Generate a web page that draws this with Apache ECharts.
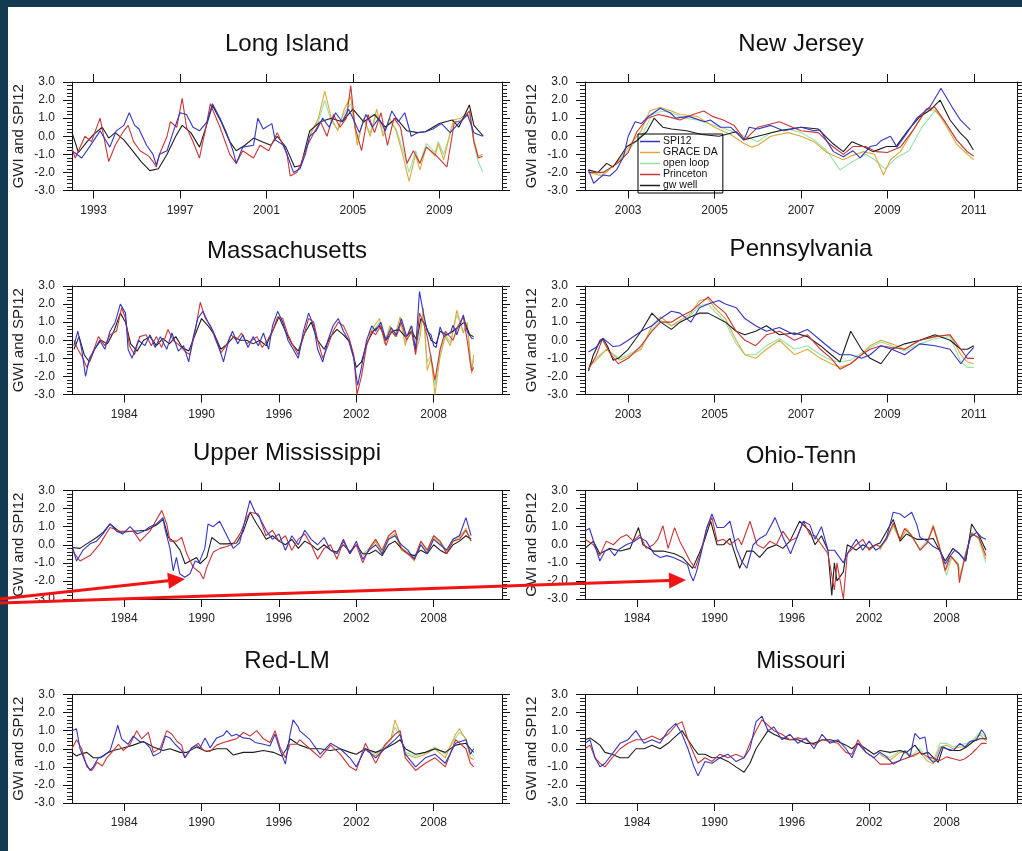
<!DOCTYPE html>
<html><head><meta charset="utf-8">
<script src="https://cdn.jsdelivr.net/npm/echarts@6/dist/echarts.min.js"></script>
<style>html,body{margin:0;padding:0;background:#123b52;}#c{position:absolute;left:0;top:0;width:1022px;height:851px;}</style>
</head><body><div id="c"></div>
<script>
// ---------------- DATA (year, value) ----------------
const seriesNames = ['SPI12','GRACE DA','open loop','Princeton','gw well'];
const liTicks = [1993,1997,2001,2005,2009];
const njTicks = [2003,2005,2007,2009,2011];
const longTicks = [1984,1990,1996,2002,2008];
const yTicks = [-3,-2,-1,0,1,2,3];

// Long Island
const liSPI = [[1992.0,-0.8],[1992.45,-1.2],[1992.8,-0.6],[1993.3,0.3],[1993.6,-0.3],[1993.75,-0.6],[1994.05,0.3],[1994.4,0.6],[1994.65,1.3],[1994.9,0.6],[1995.1,0.4],[1995.45,-0.5],[1995.75,-1.0],[1995.9,-1.6],[1996.05,-1.0],[1996.4,-0.8],[1996.7,0.3],[1997.0,1.3],[1997.3,1.2],[1997.6,0.5],[1997.9,0.3],[1998.25,0.8],[1998.5,1.8],[1998.85,1.0],[1999.15,0.2],[1999.45,-0.8],[1999.6,-1.5],[1999.9,-0.6],[2000.4,-0.5],[2000.6,1.0],[2000.85,0.4],[2001.25,0.7],[2001.4,-0.2],[2001.8,-0.5],[2002.25,-2.0],[2002.55,-1.8],[2002.8,-1.0],[2003.0,0.0],[2003.3,0.3],[2003.6,1.0],[2003.9,0.5],[2004.2,1.3],[2004.5,0.8],[2004.8,1.5],[2005.0,1.0],[2005.3,0.2],[2005.6,1.2],[2005.9,0.5],[2006.2,1.0],[2006.5,0.3],[2006.8,1.4],[2007.1,0.8],[2007.4,1.3],[2007.7,0.0],[2008.0,0.2],[2008.35,0.25],[2008.7,0.4],[2009.1,0.7],[2009.5,0.2],[2009.96,0.8],[2010.3,1.2],[2010.6,0.2],[2011.0,0.0]];
const liPrin = [[1992.0,-0.7],[1992.15,-1.2],[1992.6,0.0],[1992.9,-0.3],[1993.3,1.0],[1993.7,-1.4],[1994.0,-0.5],[1994.4,0.3],[1994.6,0.6],[1994.85,-0.3],[1995.15,-0.8],[1995.55,-1.1],[1995.75,-1.4],[1995.9,-1.7],[1996.05,-1.0],[1996.4,0.0],[1996.55,0.8],[1996.85,0.5],[1997.1,2.1],[1997.3,0.5],[1997.6,-0.3],[1997.9,-1.2],[1998.2,0.5],[1998.4,1.8],[1998.6,1.2],[1998.85,0.5],[1999.3,-1.0],[1999.6,-1.5],[1999.9,-0.8],[2000.4,-1.2],[2000.7,-0.5],[2001.1,-0.8],[2001.5,0.2],[2001.95,-1.0],[2002.1,-2.2],[2002.4,-2.0],[2002.6,-1.5],[2002.9,-0.5],[2003.2,0.2],[2003.5,0.8],[2003.8,0.0],[2004.1,1.2],[2004.4,0.5],[2004.7,1.0],[2004.9,2.8],[2005.1,0.5],[2005.4,-0.8],[2005.7,1.2],[2006.0,0.2],[2006.3,1.3],[2006.6,-0.5],[2006.9,1.0],[2007.2,0.5],[2007.5,-1.5],[2007.8,-0.8],[2008.1,-1.5],[2008.4,-0.6],[2008.8,-1.0],[2009.35,-1.7],[2009.7,0.8],[2010.0,0.8],[2010.4,1.4],[2010.6,-0.3],[2010.8,-1.2],[2011.0,-1.1]];
const liGW = [[1992.0,0.2],[1992.3,-0.9],[1992.7,-0.3],[1993.0,0.1],[1993.4,0.5],[1993.7,-0.1],[1994.0,0.2],[1994.4,-0.2],[1994.8,-0.8],[1995.2,-1.4],[1995.6,-1.9],[1996.0,-1.8],[1996.4,-1.0],[1996.8,0.0],[1997.1,0.6],[1997.5,0.2],[1997.9,-0.6],[1998.2,0.5],[1998.5,1.7],[1998.9,0.8],[1999.3,-0.3],[1999.6,-0.8],[2000.0,-0.5],[2000.4,-0.1],[2000.8,-0.3],[2001.2,-0.5],[2001.5,0.0],[2001.9,-0.6],[2002.3,-1.7],[2002.6,-1.6],[2003.0,0.3],[2003.5,0.8],[2004.0,1.0],[2004.5,0.8],[2005.0,1.5],[2005.5,0.8],[2006.0,1.2],[2006.5,0.5],[2007.0,1.0],[2007.5,0.3],[2008.0,0.2],[2008.35,0.25],[2009.0,0.7],[2009.6,0.9],[2009.9,0.5],[2010.39,1.73],[2010.6,0.6],[2011.04,0.0]];
const liGrace = [[2003.0,0.0],[2003.4,1.0],[2003.7,2.5],[2004.0,1.0],[2004.3,0.3],[2004.6,1.5],[2004.9,2.2],[2005.2,-0.5],[2005.5,1.0],[2005.8,0.0],[2006.1,1.5],[2006.4,0.0],[2006.7,1.0],[2007.0,0.3],[2007.3,-1.0],[2007.6,-2.5],[2007.9,-1.0],[2008.1,-1.86],[2008.4,-0.57],[2008.8,-1.1],[2008.95,-0.4],[2009.2,-1.3],[2009.65,0.9],[2010.0,1.0],[2010.4,1.4],[2010.6,-0.2],[2010.8,-1.1],[2011.0,-1.0]];
const liOL = [[2003.0,0.2],[2003.4,0.8],[2003.7,2.0],[2004.0,0.8],[2004.3,0.4],[2004.6,1.3],[2004.9,1.8],[2005.2,-0.2],[2005.5,0.9],[2005.8,0.2],[2006.1,1.2],[2006.4,0.2],[2006.7,0.8],[2007.0,0.4],[2007.3,-0.7],[2007.6,-2.0],[2007.9,-0.8],[2008.1,-1.5],[2008.4,-0.4],[2008.8,-0.9],[2008.95,-0.3],[2009.2,-1.0],[2009.65,0.7],[2010.0,0.9],[2010.4,1.2],[2010.6,-0.4],[2010.8,-1.4],[2011.0,-1.95]];

// New Jersey
const njSPI = [[2002.08,-1.86],[2002.2,-2.6],[2002.42,-2.14],[2002.57,-2.2],[2002.73,-1.86],[2002.89,-1.13],[2003.0,0.0],[2003.16,0.8],[2003.3,0.7],[2003.46,1.08],[2003.74,1.55],[2003.97,1.3],[2004.1,1.0],[2004.4,1.1],[2004.77,0.8],[2004.9,0.9],[2005.14,0.5],[2005.37,0.5],[2005.68,-0.2],[2005.8,0.5],[2006.0,0.4],[2006.3,0.6],[2006.6,0.3],[2007.0,0.5],[2007.3,0.3],[2007.44,0.35],[2007.75,-0.85],[2007.98,-1.13],[2008.2,-0.8],[2008.37,-1.2],[2008.6,-0.57],[2008.74,-0.5],[2008.86,-0.23],[2009.07,0.0],[2009.22,-0.6],[2009.45,0.17],[2009.68,1.0],[2009.99,1.64],[2010.24,2.65],[2010.49,1.64],[2010.69,0.9],[2010.92,0.35]];
const njGW = [[2002.08,-1.86],[2002.3,-2.0],[2002.5,-1.5],[2002.65,-1.7],[2002.97,-0.57],[2003.2,-0.25],[2003.43,0.25],[2003.6,1.0],[2003.8,0.5],[2004.0,0.4],[2004.35,0.3],[2004.7,0.1],[2005.1,0.0],[2005.5,0.25],[2005.67,-0.2],[2006.0,0.0],[2006.5,0.3],[2007.0,0.5],[2007.4,0.4],[2007.75,-0.43],[2007.98,-0.85],[2008.18,-0.3],[2008.44,-0.57],[2008.67,-0.85],[2008.98,-0.57],[2009.2,-0.57],[2009.45,0.25],[2009.75,1.08],[2009.99,1.45],[2010.22,2.0],[2010.45,0.9],[2010.69,0.17],[2010.85,-0.2],[2010.99,-0.76]];
const njGrace = [[2002.08,-2.0],[2002.4,-2.2],[2002.8,-1.3],[2003.1,-0.3],[2003.3,0.3],[2003.5,1.4],[2003.74,1.6],[2004.0,1.4],[2004.2,1.2],[2004.6,1.1],[2005.0,0.5],[2005.37,0.1],[2005.68,-0.4],[2005.85,-0.6],[2006.0,-0.5],[2006.3,0.0],[2006.7,0.2],[2007.0,0.0],[2007.3,-0.3],[2007.6,-0.9],[2007.98,-1.3],[2008.15,-1.1],[2008.45,-0.85],[2008.7,-1.0],[2008.91,-2.14],[2009.07,-1.3],[2009.3,-0.85],[2009.6,0.35],[2009.9,1.45],[2010.1,1.45],[2010.2,1.18],[2010.38,0.5],[2010.6,-0.43],[2010.85,-1.0],[2011.0,-1.3]];
const njOL = [[2002.08,-2.0],[2002.4,-2.1],[2002.8,-1.4],[2003.1,-0.5],[2003.35,0.2],[2003.55,1.2],[2003.8,1.4],[2004.0,1.3],[2004.3,1.0],[2004.6,0.9],[2005.0,0.6],[2005.37,0.3],[2005.7,0.0],[2006.0,-0.3],[2006.3,0.2],[2006.7,0.4],[2007.0,0.2],[2007.3,-0.2],[2007.6,-0.8],[2007.9,-1.86],[2008.2,-1.4],[2008.5,-1.0],[2008.7,-1.3],[2008.95,-1.8],[2009.2,-1.2],[2009.5,-0.8],[2009.8,0.5],[2010.1,1.4],[2010.3,0.9],[2010.6,-0.2],[2010.85,-0.9],[2011.0,-1.1]];
const njPrin = [[2002.08,-2.0],[2002.42,-2.0],[2002.75,-1.5],[2003.0,-0.9],[2003.2,0.25],[2003.45,1.0],[2003.7,1.2],[2003.9,1.1],[2004.2,0.9],[2004.5,1.2],[2004.75,1.4],[2004.95,1.1],[2005.2,0.9],[2005.45,0.6],[2005.7,-0.2],[2006.0,0.5],[2006.5,0.8],[2007.0,0.3],[2007.4,0.2],[2007.7,-0.5],[2007.98,-1.0],[2008.2,-0.57],[2008.5,-0.57],[2008.74,-0.85],[2009.0,-0.9],[2009.3,-0.6],[2009.6,0.35],[2009.9,1.5],[2010.1,1.6],[2010.35,0.75],[2010.6,-0.2],[2010.85,-0.85],[2011.0,-1.1]];

// Massachusetts
const maSPI = [[1980.1,-0.3],[1980.4,0.5],[1980.7,-0.5],[1981.0,-2.0],[1981.3,-1.0],[1981.7,-0.5],[1982.1,0.0],[1982.5,-0.5],[1982.9,0.5],[1983.3,1.0],[1983.7,2.0],[1984.1,1.5],[1984.3,-0.5],[1984.6,-1.0],[1985.1,0.0],[1985.6,-0.3],[1986.0,0.3],[1986.4,-0.4],[1986.8,0.2],[1987.3,-0.5],[1987.7,0.4],[1988.2,-0.6],[1988.6,-0.3],[1989.0,-1.2],[1989.3,0.0],[1989.7,1.2],[1990.1,1.6],[1990.5,1.0],[1990.9,0.5],[1991.3,-0.3],[1991.7,-1.2],[1992.1,0.0],[1992.4,0.5],[1992.8,-0.2],[1993.2,0.3],[1993.6,-0.4],[1994.0,0.2],[1994.4,-0.3],[1994.8,0.4],[1995.2,-0.5],[1995.5,0.8],[1995.9,1.6],[1996.3,1.0],[1996.7,0.0],[1997.1,-0.5],[1997.5,-1.0],[1997.9,0.5],[1998.3,1.5],[1998.7,0.8],[1999.0,-0.5],[1999.4,-1.2],[1999.8,0.0],[2000.2,0.8],[2000.6,1.2],[2001.0,0.5],[2001.4,0.0],[2001.8,-1.0],[2002.1,-2.5],[2002.4,-1.5],[2002.8,0.0],[2003.2,0.8],[2003.5,0.5],[2003.9,1.0],[2004.3,0.0],[2004.7,0.7],[2005.1,0.3],[2005.5,1.2],[2005.9,0.2],[2006.3,0.8],[2006.6,-0.5],[2006.9,2.7],[2007.2,1.5],[2007.5,0.5],[2007.8,0.3],[2008.0,-0.3],[2008.2,-0.4],[2008.5,0.74],[2008.8,0.2],[2009.3,0.4],[2009.5,0.83],[2009.8,0.3],[2010.3,1.4],[2010.6,0.5],[2010.95,0.1],[2011.1,0.1]];
const maPrin = [[1980.1,0.0],[1980.4,-0.5],[1980.8,-1.0],[1981.1,-1.5],[1981.5,-0.8],[1982.0,0.2],[1982.5,-0.3],[1982.9,0.3],[1983.4,0.5],[1983.8,1.8],[1984.1,1.2],[1984.4,-0.3],[1984.8,-0.8],[1985.2,0.2],[1985.7,0.3],[1986.1,-0.3],[1986.5,0.2],[1986.9,-0.4],[1987.4,0.6],[1987.8,0.0],[1988.3,-0.3],[1988.7,-0.6],[1989.1,-0.8],[1989.5,0.5],[1989.9,2.1],[1990.3,1.2],[1990.7,0.8],[1991.1,0.0],[1991.5,-0.7],[1991.9,-0.3],[1992.3,0.3],[1992.7,0.0],[1993.1,0.4],[1993.5,-0.2],[1993.9,0.0],[1994.3,0.2],[1994.7,-0.4],[1995.1,0.0],[1995.5,0.5],[1995.9,1.3],[1996.3,1.2],[1996.7,0.3],[1997.1,-0.3],[1997.5,-0.8],[1997.9,0.2],[1998.3,1.2],[1998.7,1.0],[1999.0,0.0],[1999.4,-1.0],[1999.8,-0.3],[2000.2,0.5],[2000.6,1.0],[2001.0,0.8],[2001.4,0.2],[2001.8,-0.8],[2002.05,-3.0],[2002.4,-2.0],[2002.8,-0.3],[2003.2,0.5],[2003.5,0.3],[2003.9,0.8],[2004.3,-0.3],[2004.7,0.5],[2005.1,0.2],[2005.5,1.0],[2005.9,0.0],[2006.3,0.5],[2006.6,-0.8],[2006.9,1.5],[2007.2,1.0],[2007.5,0.2],[2007.8,-1.0],[2008.1,-2.2],[2008.5,-0.5],[2008.9,0.5],[2009.5,0.0],[2009.9,0.8],[2010.3,1.3],[2010.6,0.0],[2010.85,-1.3],[2010.95,-1.7],[2011.1,-1.5]];
const maGW = [[1980.1,-0.5],[1980.5,0.2],[1980.9,-0.8],[1981.3,-1.2],[1981.7,-0.5],[1982.2,0.0],[1982.7,-0.2],[1983.2,0.5],[1983.7,1.5],[1984.1,1.0],[1984.5,-0.2],[1985.0,-0.6],[1985.5,0.0],[1986.0,0.2],[1986.5,-0.3],[1987.0,0.1],[1987.5,-0.2],[1988.0,0.2],[1988.5,-0.4],[1989.0,-0.6],[1989.5,0.3],[1990.0,1.2],[1990.5,0.8],[1991.0,0.3],[1991.5,-0.5],[1992.0,-0.2],[1992.5,0.2],[1993.0,0.0],[1993.5,0.0],[1994.0,-0.2],[1994.5,0.0],[1995.0,-0.3],[1995.5,0.5],[1996.0,1.3],[1996.5,0.5],[1997.0,-0.2],[1997.5,-0.6],[1998.0,0.4],[1998.5,1.0],[1999.0,0.0],[1999.5,-0.5],[2000.0,0.2],[2000.5,0.6],[2001.0,0.3],[2001.5,-0.1],[2002.0,-1.5],[2002.4,-1.2],[2002.8,-0.2],[2003.3,0.5],[2003.8,0.8],[2004.3,0.0],[2004.8,0.5],[2005.3,0.6],[2005.8,0.2],[2006.3,0.5],[2006.7,0.0],[2007.0,1.2],[2007.4,0.8],[2007.8,0.0],[2008.2,-0.2],[2008.5,0.5],[2009.0,0.3],[2009.5,0.5],[2010.0,0.8],[2010.4,1.0],[2010.8,0.3],[2011.1,0.2]];
const maGrace = [[2003.0,0.3],[2003.4,0.8],[2003.8,1.2],[2004.2,-0.2],[2004.6,0.8],[2005.0,0.2],[2005.4,1.3],[2005.8,-0.3],[2006.2,0.8],[2006.6,-0.7],[2006.95,0.2],[2007.2,1.8],[2007.5,-1.67],[2007.8,-1.0],[2008.1,-3.0],[2008.5,-0.9],[2008.9,0.2],[2009.3,-0.3],[2009.8,1.67],[2010.3,0.4],[2010.6,1.0],[2010.95,-1.85],[2011.1,-0.8]];
const maOL = [[2003.0,0.2],[2003.4,0.6],[2003.8,1.0],[2004.2,0.0],[2004.6,0.6],[2005.0,0.3],[2005.4,1.0],[2005.8,-0.1],[2006.2,0.6],[2006.6,-0.5],[2006.95,0.5],[2007.2,1.5],[2007.5,-1.2],[2007.8,-0.8],[2008.1,-2.5],[2008.5,-0.6],[2008.9,0.3],[2009.3,-0.1],[2009.8,1.4],[2010.3,0.5],[2010.6,0.8],[2010.95,-1.6],[2011.1,-1.0]];

// Pennsylvania
const paSPI = [[2002.08,-0.65],[2002.25,-0.4],[2002.42,0.1],[2002.65,-0.35],[2002.8,-0.3],[2003.0,0.0],[2003.3,0.5],[2003.55,0.8],[2003.75,1.2],[2004.0,1.6],[2004.2,1.5],[2004.45,1.0],[2004.65,1.8],[2004.85,2.0],[2005.1,2.2],[2005.25,2.0],[2005.5,1.8],[2005.7,1.2],[2005.95,0.8],[2006.2,0.5],[2006.5,0.7],[2006.85,0.3],[2007.15,0.6],[2007.45,0.0],[2007.7,-0.5],[2007.9,-0.8],[2008.15,-0.8],[2008.4,-1.0],[2008.6,-0.8],[2008.85,-0.3],[2009.1,-0.5],[2009.4,-0.8],[2009.75,-0.2],[2010.1,-0.3],[2010.45,-0.5],[2010.7,-1.3],[2010.85,-0.8],[2011.0,-0.4]];
const paPrin = [[2002.08,-1.6],[2002.25,-0.9],[2002.4,0.05],[2002.6,-0.8],[2002.77,-1.3],[2003.0,-1.0],[2003.3,-0.3],[2003.55,0.5],[2003.75,1.0],[2004.0,1.0],[2004.2,1.3],[2004.45,1.6],[2004.65,2.0],[2004.85,2.4],[2005.0,2.0],[2005.25,1.5],[2005.5,0.5],[2005.7,0.0],[2005.95,-0.3],[2006.2,0.3],[2006.5,0.5],[2006.85,0.0],[2007.15,0.3],[2007.45,-0.5],[2007.7,-1.0],[2007.9,-1.6],[2008.15,-1.3],[2008.4,-0.8],[2008.6,-0.5],[2008.85,-0.3],[2009.1,-0.4],[2009.4,-0.5],[2009.75,0.0],[2010.1,0.2],[2010.45,0.3],[2010.7,-0.5],[2010.85,-1.0],[2011.0,-1.0]];
const paGW = [[2002.08,-1.7],[2002.19,-0.83],[2002.35,0.0],[2002.42,0.1],[2002.53,-0.37],[2002.65,-1.1],[2002.77,-1.0],[2003.0,-0.5],[2003.3,0.5],[2003.55,1.5],[2003.75,1.0],[2004.0,0.6],[2004.2,1.0],[2004.45,1.3],[2004.65,1.5],[2004.85,1.5],[2005.25,1.0],[2005.5,0.5],[2005.7,0.3],[2005.95,0.5],[2006.2,0.8],[2006.5,0.3],[2006.85,0.4],[2007.15,0.2],[2007.45,-0.3],[2007.7,-0.8],[2007.9,-1.2],[2008.15,0.5],[2008.4,-0.5],[2008.6,-1.0],[2008.85,-1.3],[2009.1,-0.5],[2009.4,-0.2],[2009.75,0.0],[2010.1,0.3],[2010.45,0.0],[2010.7,-0.5],[2010.85,-0.5],[2011.0,-0.3]];
const paGrace = [[2002.08,-1.5],[2002.3,-1.0],[2002.5,-0.5],[2002.8,-1.1],[2003.0,-0.9],[2003.3,-0.5],[2003.55,0.8],[2003.75,1.3],[2004.0,0.8],[2004.2,1.1],[2004.45,1.5],[2004.65,2.2],[2004.85,2.3],[2005.0,1.8],[2005.25,1.2],[2005.5,0.0],[2005.7,-0.8],[2005.95,-1.0],[2006.2,-0.5],[2006.5,0.0],[2006.85,-0.8],[2007.15,-0.5],[2007.45,-1.0],[2007.7,-1.3],[2007.9,-1.5],[2008.15,-1.3],[2008.4,-0.8],[2008.6,-0.3],[2008.85,0.0],[2009.1,-0.2],[2009.4,-0.5],[2009.75,0.0],[2010.1,0.2],[2010.45,0.3],[2010.7,-0.8],[2010.85,-1.2],[2011.0,-1.3]];
const paOL = [[2002.08,-1.4],[2002.3,-0.9],[2002.5,-0.5],[2002.8,-1.0],[2003.0,-0.8],[2003.3,-0.4],[2003.55,0.6],[2003.75,1.1],[2004.0,0.8],[2004.2,1.0],[2004.45,1.4],[2004.65,1.9],[2004.85,2.0],[2005.0,1.6],[2005.25,1.0],[2005.5,-0.2],[2005.7,-0.8],[2005.95,-0.8],[2006.2,-0.3],[2006.5,0.1],[2006.85,-0.5],[2007.15,-0.3],[2007.45,-0.8],[2007.7,-1.1],[2007.9,-1.2],[2008.15,-1.1],[2008.4,-0.7],[2008.6,-0.4],[2008.85,-0.1],[2009.1,-0.3],[2009.4,-0.6],[2009.75,-0.2],[2010.1,0.1],[2010.45,0.2],[2010.7,-1.2],[2010.85,-1.5],[2011.0,-1.5]];

// Upper Mississippi
const umSPI = [[1980.0,-0.15],[1980.3,-0.9],[1980.8,-0.3],[1981.35,0.05],[1981.85,0.2],[1982.35,0.6],[1982.9,1.15],[1983.4,0.75],[1983.9,0.6],[1984.45,1.0],[1985.0,0.6],[1985.5,0.75],[1986.0,1.0],[1986.5,1.15],[1987.0,1.5],[1987.2,0.75],[1987.55,-0.2],[1987.8,-1.45],[1988.05,-0.7],[1988.3,-1.6],[1988.7,-1.8],[1989.1,-1.6],[1989.5,-0.9],[1989.8,-1.0],[1990.25,-0.2],[1990.5,1.15],[1990.9,1.0],[1991.4,1.3],[1991.9,0.6],[1992.45,-0.2],[1992.95,0.1],[1993.35,1.3],[1993.75,2.45],[1994.15,1.8],[1994.5,1.5],[1995.0,0.8],[1995.5,0.3],[1996.0,0.6],[1996.5,-0.3],[1997.0,0.5],[1997.5,0.0],[1998.0,0.8],[1998.5,0.3],[1999.0,0.0],[1999.5,0.4],[2000.0,-0.3],[2000.5,-0.5],[2001.0,0.3],[2001.5,-0.5],[2002.0,0.2],[2002.5,-0.8],[2003.0,-0.3],[2003.5,0.0],[2004.0,-0.5],[2004.5,0.3],[2005.0,0.5],[2005.5,0.0],[2006.0,-0.3],[2006.5,-0.8],[2007.0,0.0],[2007.5,-0.5],[2008.0,0.3],[2008.5,0.0],[2009.0,-0.3],[2009.5,0.3],[2010.0,0.5],[2010.5,1.5],[2010.9,0.5]];
const umPrin = [[1979.95,-0.3],[1980.57,-0.9],[1981.35,-0.6],[1982.12,0.05],[1982.9,0.95],[1983.67,0.75],[1984.7,0.75],[1985.23,0.2],[1986.0,0.75],[1986.91,1.9],[1987.3,1.15],[1987.55,0.2],[1988.07,0.2],[1988.46,0.4],[1988.85,-0.5],[1989.36,-1.25],[1989.88,-1.55],[1990.14,-1.9],[1990.4,-1.25],[1990.91,-0.4],[1991.43,-0.2],[1991.95,-0.1],[1992.46,0.05],[1992.98,0.6],[1993.5,1.5],[1993.76,1.8],[1994.4,1.7],[1995.0,0.5],[1995.5,0.8],[1996.0,0.2],[1996.5,0.5],[1997.0,-0.3],[1997.5,0.3],[1998.0,0.6],[1998.5,0.0],[1999.0,-0.8],[1999.5,-0.2],[2000.0,0.0],[2000.5,-0.8],[2001.0,0.2],[2001.5,-0.5],[2002.0,0.0],[2002.5,-1.0],[2003.0,-0.2],[2003.5,0.3],[2004.0,-0.3],[2004.5,0.5],[2005.0,0.8],[2005.5,-0.2],[2006.0,-0.5],[2006.5,-0.8],[2007.0,0.2],[2007.5,-0.3],[2008.0,0.5],[2008.5,0.2],[2009.0,-0.5],[2009.5,0.2],[2010.0,0.3],[2010.5,0.8],[2010.9,0.2]];
const umGW = [[1979.95,-0.15],[1980.57,-0.2],[1981.09,0.05],[1981.86,0.4],[1982.38,0.7],[1982.9,1.15],[1983.67,0.7],[1984.7,0.75],[1985.74,0.8],[1986.52,1.1],[1987.03,1.4],[1987.42,0.4],[1987.81,0.2],[1988.33,-0.3],[1988.72,-1.05],[1989.1,-0.9],[1989.62,-0.7],[1989.88,-1.05],[1990.4,-0.7],[1990.79,0.4],[1991.43,0.05],[1991.95,0.05],[1992.72,0.1],[1993.24,0.75],[1993.76,1.8],[1994.28,1.15],[1994.6,0.8],[1995.0,0.3],[1995.5,0.5],[1996.0,0.2],[1996.5,0.0],[1997.0,0.3],[1997.5,-0.2],[1998.0,0.2],[1998.5,0.0],[1999.0,-0.3],[1999.5,0.0],[2000.0,-0.3],[2000.5,-0.4],[2001.0,0.0],[2001.5,-0.4],[2002.0,0.0],[2002.5,-0.5],[2003.0,-0.5],[2003.5,-0.3],[2004.0,-0.6],[2004.5,0.0],[2005.0,0.2],[2005.5,-0.2],[2006.0,-0.5],[2006.5,-0.6],[2007.0,-0.3],[2007.5,-0.5],[2008.0,0.0],[2008.5,-0.3],[2009.0,-0.5],[2009.5,0.0],[2010.0,0.2],[2010.5,0.5],[2010.9,0.3]];
const umGrace = [[2002.5,-0.6],[2003.0,-0.3],[2003.5,0.2],[2004.0,-0.5],[2004.5,0.4],[2005.0,0.6],[2005.5,-0.3],[2006.0,-0.5],[2006.5,-0.9],[2007.0,0.0],[2007.5,-0.4],[2008.0,0.4],[2008.5,0.1],[2009.0,-0.4],[2009.5,0.2],[2010.0,0.4],[2010.5,0.9],[2010.9,0.2]];
const umOL = [[2002.5,-0.5],[2003.0,-0.2],[2003.5,0.3],[2004.0,-0.4],[2004.5,0.3],[2005.0,0.5],[2005.5,-0.2],[2006.0,-0.4],[2006.5,-0.7],[2007.0,0.1],[2007.5,-0.3],[2008.0,0.5],[2008.5,0.2],[2009.0,-0.3],[2009.5,0.3],[2010.0,0.5],[2010.5,0.8],[2010.9,0.3]];

// Ohio-Tenn
const otSPI = [[1980.0,0.78],[1980.3,0.9],[1980.7,0.0],[1981.1,-0.9],[1981.5,-0.35],[1981.85,-0.25],[1982.25,-0.6],[1982.6,-0.25],[1983.15,0.0],[1983.8,0.2],[1984.2,0.4],[1984.7,0.2],[1985.3,-0.5],[1985.8,-0.7],[1986.3,-0.6],[1986.8,-0.7],[1987.4,-0.9],[1987.9,-1.1],[1988.1,-1.6],[1988.35,-2.0],[1988.6,-1.5],[1989.0,-0.35],[1989.4,0.95],[1989.8,1.7],[1990.2,0.95],[1990.7,0.95],[1991.2,1.3],[1991.7,-0.2],[1992.1,-0.9],[1992.5,-1.3],[1993.0,0.0],[1993.5,0.35],[1994.0,0.55],[1994.7,1.5],[1995.35,0.35],[1995.9,-0.5],[1996.4,0.4],[1996.9,1.3],[1997.4,1.1],[1997.8,0.3],[1998.3,1.0],[1998.8,-0.3],[1999.3,-0.3],[2000.0,-1.0],[2000.3,-0.5],[2001.0,0.3],[2001.5,-0.3],[2002.0,0.2],[2002.5,-0.3],[2002.84,-0.15],[2003.35,0.4],[2003.87,1.8],[2004.4,1.7],[2004.75,1.5],[2005.3,1.8],[2005.7,1.1],[2005.95,0.4],[2006.5,0.2],[2006.97,-0.1],[2007.5,-0.3],[2007.9,-1.07],[2008.25,-0.65],[2008.65,-0.3],[2009.0,-0.5],[2009.45,-0.9],[2009.82,0.4],[2010.35,0.7],[2010.75,0.4],[2011.06,0.3]];
const otPrin = [[1979.95,0.3],[1980.6,0.0],[1981.1,-0.6],[1981.6,0.2],[1982.15,0.0],[1982.7,0.4],[1983.2,0.55],[1983.7,0.2],[1984.2,0.55],[1984.7,-0.2],[1985.25,0.0],[1985.6,0.3],[1986.0,1.05],[1986.4,-0.2],[1986.9,0.95],[1987.3,0.2],[1987.7,-0.35],[1988.1,-0.9],[1988.5,-1.3],[1988.9,-0.5],[1989.4,0.95],[1989.8,1.5],[1990.2,0.2],[1990.7,0.3],[1991.2,0.0],[1991.85,0.35],[1992.1,0.0],[1992.75,1.3],[1993.3,0.0],[1993.8,-0.2],[1994.3,0.2],[1994.8,0.0],[1995.3,0.75],[1995.85,0.2],[1996.4,0.4],[1996.9,1.3],[1997.4,0.55],[1997.8,0.5],[1998.3,0.0],[1998.8,-0.5],[1999.3,-2.5],[1999.5,-1.0],[2000.0,-3.0],[2000.3,-0.5],[2001.0,0.0],[2001.5,0.3],[2002.0,-0.3],[2002.5,0.0],[2002.84,-0.1],[2003.35,0.3],[2003.87,1.2],[2004.4,0.3],[2004.75,0.9],[2005.3,0.5],[2005.95,-0.3],[2006.5,0.1],[2006.97,1.0],[2007.4,0.0],[2007.9,-1.4],[2008.3,-0.6],[2008.9,-1.1],[2009.0,-2.1],[2009.45,-0.6],[2009.95,0.6],[2010.5,0.4],[2011.06,-0.6]];
const otGW = [[1979.95,-0.2],[1980.6,0.2],[1981.1,-0.5],[1981.85,-0.2],[1982.7,-0.35],[1983.45,-0.2],[1984.1,0.95],[1984.45,0.0],[1985.25,-0.35],[1986.0,-0.35],[1986.9,-0.5],[1987.5,-0.7],[1988.3,-1.3],[1988.8,-0.5],[1989.2,0.2],[1989.7,1.3],[1990.2,0.0],[1990.7,0.0],[1991.2,0.35],[1991.95,-1.3],[1992.5,-0.35],[1993.0,-0.35],[1993.5,-0.7],[1994.1,-0.2],[1994.8,0.0],[1995.3,-0.2],[1995.85,0.2],[1996.6,1.3],[1997.4,0.75],[1997.8,0.0],[1998.3,0.5],[1998.8,-0.3],[1999.1,-2.8],[1999.3,-1.0],[1999.5,-2.0],[2000.0,-1.5],[2000.3,0.0],[2001.0,-0.3],[2001.5,0.0],[2002.0,-0.2],[2002.5,0.0],[2002.84,0.1],[2003.87,1.4],[2004.4,0.2],[2004.9,0.6],[2005.7,0.3],[2006.5,0.3],[2006.97,0.35],[2007.9,-0.9],[2008.5,-0.2],[2009.0,-0.5],[2009.5,-0.9],[2009.95,1.15],[2010.6,0.4],[2011.06,-0.3]];
const otGrace = [[2002.84,-0.3],[2003.35,0.4],[2003.87,1.1],[2004.4,0.2],[2004.9,0.9],[2005.4,0.4],[2005.95,-0.3],[2006.5,0.1],[2006.97,1.1],[2007.4,0.1],[2007.9,-1.5],[2008.4,-0.65],[2008.9,-1.2],[2009.0,-1.9],[2009.45,-0.65],[2009.95,0.65],[2010.5,0.4],[2011.06,-0.8]];
const otOL = [[2002.84,-0.2],[2003.35,0.3],[2003.87,1.0],[2004.4,0.3],[2004.9,0.8],[2005.4,0.3],[2005.95,-0.2],[2006.5,0.2],[2006.97,0.9],[2007.4,0.0],[2008.0,-1.7],[2008.4,-0.7],[2008.9,-1.0],[2009.1,-1.6],[2009.45,-0.5],[2009.95,0.7],[2010.5,0.3],[2011.06,-1.0]];

// Red-LM
const rlSPI = [[1979.95,1.0],[1980.3,1.1],[1980.57,0.0],[1980.96,-0.7],[1981.35,-1.2],[1981.6,-1.0],[1982.0,-0.5],[1982.4,-0.4],[1982.9,-0.1],[1983.3,0.8],[1983.5,1.3],[1983.8,0.55],[1984.3,0.25],[1984.7,0.7],[1985.2,0.4],[1985.6,0.35],[1986.0,0.05],[1986.26,-0.4],[1986.8,-0.2],[1987.2,0.7],[1987.55,0.6],[1987.95,0.25],[1988.46,-0.1],[1988.7,-0.5],[1989.24,0.05],[1989.6,0.2],[1989.88,0.05],[1990.27,0.6],[1990.66,0.05],[1991.17,0.6],[1991.7,0.75],[1991.95,1.0],[1992.34,0.7],[1992.7,0.8],[1993.24,0.6],[1993.76,0.55],[1994.15,0.35],[1994.8,0.25],[1995.3,0.15],[1995.7,0.8],[1996.1,-0.1],[1996.5,-0.85],[1996.86,0.8],[1997.1,1.6],[1997.5,1.2],[1997.6,1.0],[1998.4,0.5],[1999.2,-0.3],[2000.0,0.3],[2000.75,0.0],[2001.5,-0.5],[2002.0,-1.0],[2002.7,0.0],[2003.5,-0.5],[2004.2,0.0],[2005.0,0.5],[2005.4,0.8],[2005.8,-0.3],[2006.6,-1.0],[2007.35,-0.5],[2008.1,-0.3],[2008.9,-0.8],[2009.7,0.3],[2010.5,0.5],[2010.85,-0.3],[2011.1,0.0]];
const rlPrin = [[1979.95,0.0],[1980.3,0.5],[1980.7,0.0],[1981.1,-1.0],[1981.5,-1.2],[1981.9,-0.75],[1982.3,-0.95],[1982.65,-0.5],[1983.15,-0.1],[1983.55,0.25],[1983.93,-0.1],[1984.45,0.25],[1984.97,1.0],[1985.35,0.55],[1985.87,0.9],[1986.26,-0.2],[1986.8,0.05],[1987.3,1.0],[1987.7,0.8],[1988.1,0.4],[1988.46,0.2],[1988.7,-0.5],[1989.24,0.05],[1989.75,0.3],[1990.14,-0.1],[1990.66,-0.15],[1991.17,0.2],[1991.7,0.35],[1992.2,0.45],[1992.7,0.55],[1993.24,0.9],[1993.76,0.7],[1994.28,1.0],[1994.8,0.55],[1995.3,0.35],[1995.7,1.0],[1996.1,0.05],[1996.5,-0.5],[1996.86,0.25],[1997.37,0.25],[1997.6,0.5],[1998.4,0.0],[1999.2,-0.5],[2000.0,0.2],[2000.75,-0.3],[2001.5,-1.0],[2002.0,-1.2],[2002.7,0.3],[2003.5,-0.8],[2004.2,0.2],[2005.0,0.8],[2005.4,1.0],[2005.8,-0.5],[2006.6,-1.2],[2007.35,-0.8],[2008.1,-0.5],[2008.9,-1.0],[2009.7,0.5],[2010.5,0.0],[2010.85,-0.8],[2011.1,-1.0]];
const rlGW = [[1979.95,-0.2],[1980.3,-0.4],[1980.57,-0.3],[1981.1,-0.2],[1981.6,-0.5],[1982.15,-0.5],[1982.65,-0.25],[1983.15,-0.1],[1983.7,0.0],[1984.7,0.2],[1985.48,0.4],[1986.26,0.1],[1987.0,-0.1],[1987.55,0.0],[1988.33,-0.2],[1988.85,-0.2],[1989.6,0.1],[1990.4,-0.15],[1991.17,0.0],[1991.95,0.0],[1992.46,-0.35],[1993.24,-0.2],[1994.0,-0.2],[1994.8,-0.1],[1995.57,-0.2],[1996.22,-0.4],[1996.6,0.0],[1996.86,0.55],[1997.37,0.3],[1997.6,0.2],[1998.4,0.0],[1999.2,0.0],[2000.0,-0.1],[2000.75,0.0],[2001.5,-0.2],[2002.0,-0.3],[2002.7,0.0],[2003.5,-0.2],[2004.2,0.0],[2005.0,0.3],[2005.4,0.5],[2005.8,0.0],[2006.6,-0.3],[2007.35,-0.2],[2008.1,0.0],[2008.9,-0.2],[2009.7,0.2],[2010.5,0.3],[2010.85,0.0],[2011.1,-0.2]];
const rlGrace = [[2002.5,0.0],[2003.5,-0.4],[2004.2,0.1],[2004.7,0.6],[2005.0,1.6],[2005.4,0.8],[2005.8,-0.3],[2006.6,-0.5],[2007.35,-0.3],[2008.1,0.0],[2008.9,-0.5],[2009.7,0.8],[2010.0,1.1],[2010.5,0.5],[2010.85,-0.5],[2011.1,-0.6]];
const rlOL = [[2002.5,0.1],[2003.5,-0.3],[2004.2,0.2],[2004.7,0.5],[2005.0,1.2],[2005.4,0.7],[2005.8,-0.2],[2006.6,-0.4],[2007.35,-0.2],[2008.1,0.1],[2008.9,-0.3],[2009.7,0.6],[2010.0,0.9],[2010.5,0.6],[2010.85,-0.2],[2011.1,-0.4]];

// Missouri
const moSPI = [[1979.95,0.3],[1980.34,0.5],[1980.73,-0.5],[1981.11,-1.0],[1981.5,-0.8],[1982.05,-0.3],[1982.67,0.3],[1983.29,0.5],[1983.9,1.0],[1984.53,0.3],[1985.15,0.5],[1985.77,0.3],[1986.39,1.0],[1987.0,1.4],[1987.48,0.8],[1987.94,0.0],[1988.41,-1.0],[1988.72,-1.5],[1989.26,-0.7],[1989.8,-0.8],[1990.42,-0.5],[1991.04,-0.3],[1991.66,-0.7],[1992.29,-0.5],[1992.75,0.0],[1993.22,1.5],[1993.68,1.8],[1994.15,1.0],[1994.61,1.2],[1995.23,0.5],[1995.85,0.8],[1996.47,0.3],[1997.1,0.6],[1997.72,0.0],[1998.34,0.8],[1998.96,0.3],[1999.58,0.5],[2000.2,0.0],[2000.66,-0.5],[2001.13,0.3],[2001.75,-0.2],[2002.37,-0.5],[2002.84,-0.2],[2003.35,-0.45],[2003.87,-0.85],[2004.39,-0.65],[2004.78,-0.1],[2005.16,-0.45],[2005.55,0.85],[2005.94,0.55],[2006.33,0.65],[2006.58,-0.45],[2006.97,-0.75],[2007.23,-0.65],[2007.62,0.1],[2008.01,0.0],[2008.52,-0.1],[2009.04,0.3],[2009.43,0.1],[2009.82,0.4],[2010.33,0.5],[2010.72,1.05],[2010.98,0.8],[2011.11,0.5]];
const moPrin = [[1979.95,0.0],[1980.34,0.2],[1980.73,-0.5],[1981.11,-0.8],[1981.5,-1.0],[1982.05,-0.5],[1982.67,0.0],[1983.29,0.3],[1983.9,0.5],[1984.53,0.5],[1985.15,0.7],[1985.77,0.5],[1986.39,0.8],[1987.0,1.3],[1987.48,1.5],[1987.94,0.5],[1988.41,-0.3],[1988.72,-0.8],[1989.26,-0.5],[1989.8,-0.7],[1990.42,-0.3],[1991.04,-0.5],[1991.66,-0.3],[1992.29,-0.5],[1992.75,0.3],[1993.22,1.0],[1993.68,1.6],[1994.15,1.3],[1994.61,1.0],[1995.23,0.8],[1995.85,0.5],[1996.47,0.6],[1997.1,0.5],[1997.72,0.2],[1998.34,0.5],[1998.96,0.4],[1999.58,0.3],[2000.2,-0.2],[2000.66,-0.3],[2001.13,0.5],[2001.75,-0.2],[2002.37,-0.5],[2002.84,-0.85],[2003.61,-0.85],[2004.39,-0.65],[2005.16,-0.45],[2005.94,-0.2],[2006.58,-0.45],[2007.49,-0.65],[2008.01,-0.45],[2008.52,-0.55],[2009.04,-0.65],[2009.43,-0.55],[2009.82,-0.35],[2010.33,0.0],[2010.72,0.3],[2011.11,0.3]];
const moGW = [[1979.95,0.5],[1980.34,0.6],[1980.73,0.4],[1981.11,0.2],[1981.5,-0.2],[1982.05,-0.3],[1982.67,-0.5],[1983.29,-0.5],[1983.9,0.0],[1984.53,0.0],[1985.15,0.2],[1985.77,0.0],[1986.39,0.3],[1987.0,0.7],[1987.48,1.0],[1987.94,0.5],[1988.41,0.0],[1988.72,-0.3],[1989.26,-0.3],[1989.8,-0.5],[1990.42,-0.5],[1991.04,-0.7],[1991.66,-1.0],[1992.29,-1.3],[1992.75,-0.8],[1993.22,0.0],[1993.68,0.5],[1994.15,1.0],[1994.61,0.8],[1995.23,0.6],[1995.85,0.5],[1996.47,0.5],[1997.1,0.3],[1997.72,0.3],[1998.34,0.5],[1998.96,0.5],[1999.58,0.4],[2000.2,0.2],[2000.66,0.0],[2001.13,0.3],[2001.75,0.0],[2002.37,-0.3],[2002.84,-0.1],[2003.61,-0.2],[2004.39,-0.1],[2004.9,-0.2],[2005.55,0.2],[2006.07,-0.3],[2006.58,-0.2],[2007.36,-0.75],[2007.75,0.1],[2008.27,-0.1],[2009.04,-0.1],[2009.56,0.1],[2010.07,0.4],[2010.59,0.55],[2011.11,0.55]];
const moGrace = [[2002.84,-0.3],[2003.61,-0.65],[2004.39,-0.2],[2004.9,-0.2],[2005.42,-0.45],[2005.94,-0.2],[2006.46,-0.65],[2006.97,-0.85],[2007.49,0.1],[2008.01,0.2],[2008.52,0.0],[2009.04,0.1],[2009.56,0.1],[2010.07,0.4],[2010.59,0.8],[2011.11,0.4]];
const moOL = [[2002.84,-0.2],[2003.61,-0.5],[2004.39,-0.1],[2004.9,-0.3],[2005.42,-0.3],[2005.94,0.0],[2006.46,-0.5],[2006.97,-0.7],[2007.49,0.3],[2008.01,0.3],[2008.52,0.1],[2009.04,0.2],[2009.56,0.3],[2010.07,0.5],[2010.59,0.9],[2011.11,0.6]];

// ---------------- LAYOUT / STYLE ----------------
const colors = {'SPI12':'#3535c2','GRACE DA':'#dcaa3c','open loop':'#96e3aa','Princeton':'#c93636','gw well':'#1e1e1e'};
const drawOrder = ['open loop','GRACE DA','gw well','Princeton','SPI12'];
const colLeft = [72, 585], colWidth = [430, 432];
const rowTop = [82, 286, 490.5, 694.5], rowH = 108.5;

const panels = [
  {title:'Long Island', r:0, c:0, xmin:1992, xmax:2011.9, ticks:liTicks, ty:44, d:{'SPI12':liSPI,'GRACE DA':liGrace,'open loop':liOL,'Princeton':liPrin,'gw well':liGW}},
  {title:'New Jersey', r:0, c:1, xmin:2002, xmax:2012, ticks:njTicks, ty:44, d:{'SPI12':njSPI,'GRACE DA':njGrace,'open loop':njOL,'Princeton':njPrin,'gw well':njGW}},
  {title:'Massachusetts', r:1, c:0, xmin:1979.95, xmax:2013.3, ticks:longTicks, ty:251, d:{'SPI12':maSPI,'GRACE DA':maGrace,'open loop':maOL,'Princeton':maPrin,'gw well':maGW}},
  {title:'Pennsylvania', r:1, c:1, xmin:2002, xmax:2012, ticks:njTicks, ty:249, d:{'SPI12':paSPI,'GRACE DA':paGrace,'open loop':paOL,'Princeton':paPrin,'gw well':paGW}},
  {title:'Upper Mississippi', r:2, c:0, xmin:1979.95, xmax:2013.3, ticks:longTicks, ty:453, d:{'SPI12':umSPI,'GRACE DA':umGrace,'open loop':umOL,'Princeton':umPrin,'gw well':umGW}},
  {title:'Ohio-Tenn', r:2, c:1, xmin:1979.95, xmax:2013.47, ticks:longTicks, ty:456, d:{'SPI12':otSPI,'GRACE DA':otGrace,'open loop':otOL,'Princeton':otPrin,'gw well':otGW}},
  {title:'Red-LM', r:3, c:0, xmin:1979.95, xmax:2013.3, ticks:longTicks, ty:661, d:{'SPI12':rlSPI,'GRACE DA':rlGrace,'open loop':rlOL,'Princeton':rlPrin,'gw well':rlGW}},
  {title:'Missouri', r:3, c:1, xmin:1979.95, xmax:2013.47, ticks:longTicks, ty:661, d:{'SPI12':moSPI,'GRACE DA':moGrace,'open loop':moOL,'Princeton':moPrin,'gw well':moGW}}
];

const FONT = '"Liberation Sans", Arial, Helvetica, sans-serif';
const grid=[], xAxis=[], yAxis=[], series=[], graphic=[];
graphic.push({type:'rect', z:-100, silent:true, shape:{x:8,y:7,width:1014,height:844}, style:{fill:'#ffffff'}});

panels.forEach((p,i)=>{
  const left = colLeft[p.c], top = rowTop[p.r], w = colWidth[p.c];
  grid.push({left:left, top:top, width:w, height:rowH, show:false});
  const axLine = {show:true, onZero:false, lineStyle:{color:'#111', width:1}};
  xAxis.push({type:'value', gridIndex:i, position:'bottom', min:p.xmin, max:p.xmax,
    axisLine:axLine, splitLine:{show:false},
    axisTick:{show:true, inside:false, length:8, customValues:p.ticks, lineStyle:{color:'#111'}},
    axisLabel:{show:true, margin:14, customValues:p.ticks, formatter:v=>String(Math.round(v)), fontSize:12, color:'#222', fontFamily:FONT}});
  xAxis.push({type:'value', gridIndex:i, position:'top', min:p.xmin, max:p.xmax,
    axisLine:axLine, splitLine:{show:false},
    axisTick:{show:true, inside:false, length:8, customValues:p.ticks, lineStyle:{color:'#111'}},
    axisLabel:{show:false}});
  yAxis.push({type:'value', gridIndex:i, position:'left', min:-3, max:3, interval:1,
    axisLine:axLine, splitLine:{show:false},
    axisTick:{show:true, inside:false, length:9, lineStyle:{color:'#111'}},
    minorTick:{show:true, splitNumber:5, length:5, lineStyle:{color:'#222'}},
    axisLabel:{margin:17, formatter:v=>v.toFixed(1), fontSize:12, color:'#222', fontFamily:FONT},
    name:'GWI and SPI12', nameLocation:'middle', nameGap:46, nameRotate:90,
    nameTextStyle:{fontSize:15, color:'#222', fontFamily:FONT}});
  yAxis.push({type:'value', gridIndex:i, position:'right', min:-3, max:3, interval:1,
    axisLine:axLine, splitLine:{show:false},
    axisTick:{show:true, inside:false, length:8, lineStyle:{color:'#111'}},
    minorTick:{show:true, splitNumber:5, length:5, lineStyle:{color:'#222'}},
    axisLabel:{show:false}});
  drawOrder.forEach(name=>{
    series.push({type:'line', name:name, xAxisIndex:2*i, yAxisIndex:2*i, data:p.d[name],
      showSymbol:false, symbol:'none', animation:false, silent:true,
      lineStyle:{color:colors[name], width:1.1}, itemStyle:{color:colors[name]}});
  });
  graphic.push({type:'text', x:left + w/2, y:p.ty, silent:true,
    style:{text:p.title, fill:'#111', font:'24px ' + FONT, align:'center', verticalAlign:'middle', textAlign:'center', textVerticalAlign:'middle'}});
});

// red annotation arrows
function arrow(x0,y0,x1,y1){
  const dx=x1-x0, dy=y1-y0, L=Math.hypot(dx,dy), ux=dx/L, uy=dy/L;
  const hl=17, hw=8, bx=x1-ux*hl, by=y1-uy*hl;
  graphic.push({type:'line', z:100, silent:true, shape:{x1:x0,y1:y0,x2:bx,y2:by}, style:{stroke:'#f01414', lineWidth:3}});
  graphic.push({type:'polygon', z:100, silent:true, shape:{points:[[x1,y1],[bx-uy*hw,by+ux*hw],[bx+uy*hw,by-ux*hw]]}, style:{fill:'#f01414'}});
}
arrow(0,599,185,579);
arrow(0,603,686,580);

const chart = echarts.init(document.getElementById('c'), null, {renderer:'canvas'});
chart.setOption({
  backgroundColor:'#123b52',
  animation:false,
  textStyle:{fontFamily:FONT},
  grid, xAxis, yAxis, series, graphic,
  legend:{data:seriesNames, left:638, top:134, orient:'vertical', itemGap:0, itemWidth:20, itemHeight:1.5, icon:'rect',
    padding:[2,5,2,2], borderColor:'#000', borderWidth:1, backgroundColor:'rgba(255,255,255,0)',
    selectedMode:false, textStyle:{fontSize:10.5, lineHeight:11, color:'#111', fontFamily:FONT, padding:[0,0,0,-2]}}
});
</script></body></html>
